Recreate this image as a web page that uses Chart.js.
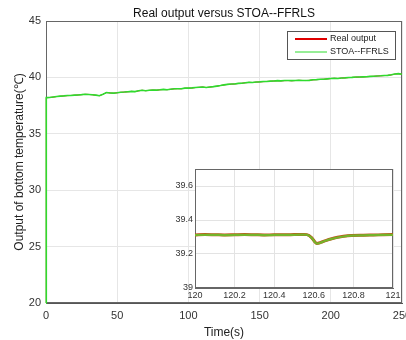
<!DOCTYPE html>
<html><head><meta charset="utf-8">
<script src="https://cdn.jsdelivr.net/npm/chart.js@4.4.1/dist/chart.umd.min.js"></script>
<style>
html,body{margin:0;padding:0;background:#fff;overflow:hidden;width:406px;height:340px}
#main{position:absolute;left:0;top:0}
#inset{position:absolute;left:150px;top:160px}
</style></head><body>
<canvas id="main" width="430" height="340"></canvas>
<canvas id="inset" width="255" height="145"></canvas>
<script>
const chartTitle = 'Real output versus STOA--FFRLS';
const xTitle = 'Time(s)';
const yTitle = 'Output of bottom temperature(\u2103)';
const seriesNames = ['Real output', 'STOA--FFRLS'];
const xTicks = [0, 50, 100, 150, 200, 250];
const yTicks = [20, 25, 30, 35, 40, 45];
const insetXTicks = [120, 120.2, 120.4, 120.6, 120.8, 121];
const insetYTicks = [39, 39.2, 39.4, 39.6];

const timeSec = [0, 0.2, 2.5, 5, 7.5, 10, 12.5, 15, 17.5, 20, 22.5,
  25, 27.5, 30, 32.5, 35, 37.5, 40, 42.5, 45, 47.5,
  50, 52.5, 55, 57.5, 60, 62.5, 65, 67.5, 70, 72.5,
  75, 77.5, 80, 82.5, 85, 87.5, 90, 92.5, 95, 97.5,
  100, 102.5, 105, 107.5, 110, 112.5, 115, 117.5, 120, 122.5,
  125, 127.5, 130, 132.5, 135, 137.5, 140, 142.5, 145, 147.5,
  150, 152.5, 155, 157.5, 160, 162.5, 165, 167.5, 170, 172.5,
  175, 177.5, 180, 182.5, 185, 187.5, 190, 192.5, 195, 197.5,
  200, 202.5, 205, 207.5, 210, 212.5, 215, 217.5, 220, 222.5,
  225, 227.5, 230, 232.5, 235, 237.5, 240, 242.5, 245, 247.5, 250];

const realOutput = [20,
  38.20, 38.22, 38.25, 38.30, 38.33, 38.36, 38.38, 38.40, 38.42, 38.44,
  38.47, 38.50, 38.49, 38.46, 38.42, 38.38, 38.50, 38.66, 38.62, 38.60,
  38.64, 38.68, 38.70, 38.72, 38.76, 38.74, 38.80, 38.86, 38.82, 38.85,
  38.88, 38.86, 38.90, 38.93, 38.91, 38.95, 38.98, 39.00, 38.99, 39.04,
  39.05, 39.06, 39.10, 39.12, 39.15, 39.10, 39.14, 39.18, 39.22, 39.28,
  39.33, 39.38, 39.40, 39.42, 39.46, 39.48, 39.52, 39.56, 39.55, 39.58,
  39.60, 39.62, 39.64, 39.66, 39.68, 39.70, 39.69, 39.71, 39.72, 39.70,
  39.72, 39.74, 39.73, 39.72, 39.74, 39.78, 39.80, 39.82, 39.84, 39.86,
  39.90, 39.92, 39.90, 39.94, 39.96, 39.98, 40.00, 40.02, 40.03, 40.04,
  40.06, 40.08, 40.10, 40.12, 40.14, 40.16, 40.18, 40.22, 40.30, 40.32,
  40.28];

const stoaFfrls = [20,
  38.21, 38.22, 38.26, 38.30, 38.34, 38.36, 38.39, 38.40, 38.43, 38.44,
  38.47, 38.51, 38.49, 38.46, 38.43, 38.38, 38.51, 38.66, 38.62, 38.61,
  38.64, 38.69, 38.70, 38.73, 38.76, 38.74, 38.81, 38.86, 38.82, 38.86,
  38.88, 38.87, 38.90, 38.94, 38.91, 38.95, 38.99, 39.00, 38.99, 39.05,
  39.05, 39.07, 39.10, 39.13, 39.15, 39.10, 39.15, 39.18, 39.23, 39.28,
  39.34, 39.38, 39.41, 39.42, 39.47, 39.48, 39.53, 39.56, 39.55, 39.59,
  39.60, 39.63, 39.64, 39.67, 39.68, 39.71, 39.69, 39.72, 39.72, 39.71,
  39.72, 39.75, 39.73, 39.73, 39.74, 39.79, 39.80, 39.83, 39.84, 39.87,
  39.90, 39.93, 39.90, 39.95, 39.96, 39.99, 40.00, 40.03, 40.03, 40.05,
  40.06, 40.09, 40.10, 40.13, 40.14, 40.17, 40.18, 40.23, 40.30, 40.33,
  40.28];

const insetTime = [120, 120.05, 120.1, 120.15, 120.2, 120.25, 120.3, 120.35, 120.4, 120.45,
  120.5, 120.55, 120.565, 120.59, 120.605, 120.615, 120.635, 120.66, 120.69, 120.72,
  120.75, 120.79, 120.85, 120.9, 120.95, 121];
const insetReal = [39.312, 39.314, 39.313, 39.312, 39.313, 39.314, 39.313, 39.312, 39.313, 39.313,
  39.314, 39.315, 39.314, 39.295, 39.272, 39.262, 39.268, 39.279, 39.290, 39.298,
  39.304, 39.309, 39.311, 39.312, 39.313, 39.314];
const insetStoa = [39.311, 39.313, 39.313, 39.311, 39.312, 39.313, 39.313, 39.311, 39.312, 39.313,
  39.313, 39.314, 39.313, 39.294, 39.271, 39.261, 39.267, 39.278, 39.289, 39.297,
  39.303, 39.308, 39.310, 39.311, 39.312, 39.313];

const FONT = "'Liberation Sans', Arial, Helvetica, sans-serif";
const pts = (xs, ys) => xs.map((x, i) => ({x: x, y: ys[i]}));

const boxPlugin = (color) => ({
  id: 'box',
  beforeDatasetsDraw(chart) {
    const a = chart.chartArea, c = chart.ctx;
    c.save(); c.strokeStyle = color; c.lineWidth = 1;
    c.strokeRect(Math.round(a.left) + 0.5, Math.round(a.top) + 0.5,
      Math.round(a.right - a.left) - 1, Math.round(a.bottom - a.top) - 1);
    c.restore();
  }
});

const titlePlugin = {
  id: 'areaTitle',
  afterDraw(chart) {
    const a = chart.chartArea, c = chart.ctx;
    c.save();
    c.font = '12px ' + FONT; c.fillStyle = '#111';
    c.textAlign = 'center'; c.textBaseline = 'middle';
    c.fillText(chartTitle, (a.left + a.right) / 2, a.top - 7);
    c.restore();
  }
};

const legendPlugin = {
  id: 'boxLegend',
  afterDraw(chart) {
    const a = chart.chartArea, c = chart.ctx;
    const w = 108, h = 28;
    const x0 = a.right - 7 - w, y0 = a.top + 10;
    c.save();
    c.fillStyle = '#fff'; c.fillRect(x0, y0, w, h);
    c.strokeStyle = '#555'; c.lineWidth = 1;
    c.strokeRect(Math.round(x0) + 0.5, Math.round(y0) + 0.5, w, h);
    c.font = '9px ' + FONT; c.textBaseline = 'middle'; c.fillStyle = '#222';
    chart.data.datasets.forEach((ds, i) => {
      const yy = y0 + 8 + i * 13;
      c.strokeStyle = ds.borderColor; c.lineWidth = i === 0 ? 2 : 1;
      c.beginPath(); c.moveTo(x0 + 8, yy); c.lineTo(x0 + 40, yy); c.stroke();
      c.fillText(ds.label, x0 + 43, yy);
    });
    c.restore();
  }
};

const bgPlugin = {
  id: 'bg',
  beforeDraw(chart) {
    const a = chart.chartArea, c = chart.ctx;
    c.save(); c.fillStyle = '#fff';
    c.fillRect(a.left, a.top, a.right - a.left, a.bottom - a.top);
    c.restore();
  }
};

new Chart(document.getElementById('main'), {
  type: 'line',
  data: {datasets: [
    {label: seriesNames[0], data: pts(timeSec, realOutput), borderColor: '#e00000', borderWidth: 1, pointRadius: 0, tension: 0, clip: 4, order: 1},
    {label: seriesNames[1], data: pts(timeSec, stoaFfrls), borderColor: '#2edc2e', borderWidth: 1.6, pointRadius: 0, tension: 0, clip: 4, order: 0}
  ]},
  options: {
    responsive: false, animation: false, events: [],
    layout: {padding: {left: 0, right: 28, top: 21, bottom: 0}},
    plugins: {
      legend: {display: false}, tooltip: {enabled: false}, title: {display: false}
    },
    scales: {
      x: {type: 'linear', min: 0, max: 250,
        afterBuildTicks: s => { s.ticks = xTicks.map(v => ({value: v})); },
        afterFit: s => { s.height = 37; },
        grid: {color: '#e6e6e6', drawTicks: false},
        border: {color: '#555'},
        ticks: {padding: 6, color: '#333', maxRotation: 0, font: {family: FONT, size: 11}, callback: v => String(v)},
        title: {display: true, text: xTitle, color: '#222', font: {family: FONT, size: 12}, padding: {top: 3, bottom: 0}}
      },
      y: {type: 'linear', min: 20, max: 45,
        afterBuildTicks: s => { s.ticks = yTicks.map(v => ({value: v})); },
        afterFit: s => { s.width = 46; },
        grid: {color: '#e6e6e6', drawTicks: false},
        border: {color: '#555'},
        ticks: {padding: 5, color: '#333', font: {family: FONT, size: 11}, callback: v => String(v)},
        title: {display: true, text: yTitle, color: '#222', font: {family: FONT, size: 12}, padding: {top: 12, bottom: 0}}
      }
    }
  },
  plugins: [boxPlugin('#666'), legendPlugin, titlePlugin]
});

new Chart(document.getElementById('inset'), {
  type: 'line',
  data: {datasets: [
    {label: seriesNames[0], data: pts(insetTime, insetReal), borderColor: '#c0501a', borderWidth: 3, pointRadius: 0, tension: 0.3, cubicInterpolationMode: 'monotone', order: 1},
    {label: seriesNames[1], data: pts(insetTime, insetStoa), borderColor: '#74b42a', borderWidth: 2.2, pointRadius: 0, tension: 0.3, cubicInterpolationMode: 'monotone', order: 0}
  ]},
  options: {
    responsive: false, animation: false, events: [],
    layout: {padding: {left: 0, right: 12, top: 9, bottom: 0}},
    plugins: {legend: {display: false}, tooltip: {enabled: false}},
    scales: {
      x: {type: 'linear', min: 120, max: 121,
        afterBuildTicks: s => { s.ticks = insetXTicks.map(v => ({value: v})); },
        afterFit: s => { s.height = 17; },
        grid: {color: '#e3e3e3', drawTicks: false},
        border: {color: '#666'},
        ticks: {padding: 2, color: '#333', maxRotation: 0, font: {family: FONT, size: 9}, callback: v => String(v)}
      },
      y: {type: 'linear', min: 39, max: 39.7,
        afterBuildTicks: s => { s.ticks = insetYTicks.map(v => ({value: v})); },
        afterFit: s => { s.width = 45; },
        grid: {color: '#e3e3e3', drawTicks: false},
        border: {color: '#666'},
        ticks: {padding: 2, color: '#333', font: {family: FONT, size: 9}, callback: v => String(v)}
      }
    }
  },
  plugins: [bgPlugin, boxPlugin('#666')]
});
</script>
</body></html>
